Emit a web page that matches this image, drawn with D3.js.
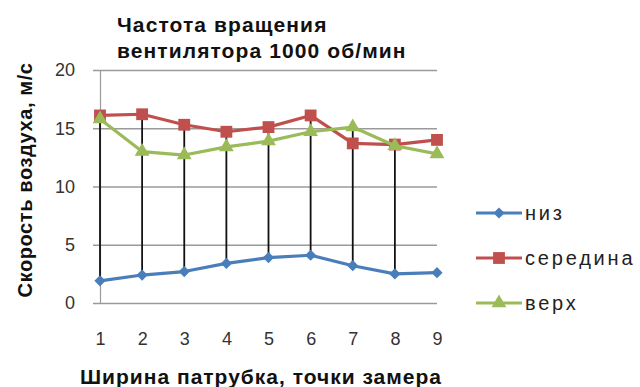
<!DOCTYPE html>
<html>
<head>
<meta charset="utf-8">
<script src="https://cdn.jsdelivr.net/npm/d3@7"></script>
<style>
  html, body { margin: 0; padding: 0; background: #fff; }
  svg { display: block; }
</style>
</head>
<body>
<svg id="chart" width="640" height="387"></svg>
<script>
// Measurement points across the duct width
const categories = [1, 2, 3, 4, 5, 6, 7, 8, 9];
// Air speed, m/s, at three heights
const nizValues      = [1.9, 2.4, 2.7, 3.4, 3.9, 4.1, 3.2, 2.5, 2.6];
const seredinaValues = [16.1, 16.2, 15.3, 14.7, 15.1, 16.1, 13.7, 13.6, 14.0];
const verkhValues    = [15.8, 13.0, 12.7, 13.4, 13.9, 14.7, 15.1, 13.5, 12.8];
const yTicks = [0, 5, 10, 15, 20];
// Points that carry a vertical high-low line
const hiLoPoints = [1, 2, 3, 4, 5, 6, 7, 8];

const seriesNames = ["низ", "середина", "верх"];
const seriesColors = ["#4a7ebb", "#c0504d", "#9bbb59"];
const seriesMarkers = ["diamond", "square", "triangle"];
const seriesValues = [nizValues, seredinaValues, verkhValues];

const svg = d3.select("#chart");
const font = "'Liberation Sans', Arial, sans-serif";

const x = d3.scalePoint().domain(categories).range([100, 437]);
const y = d3.scaleLinear().domain([0, 20]).range([303, 70]);

// Horizontal gridlines with their left ticks
const yAxis = d3.axisLeft(y).tickValues(yTicks).tickSize(7).tickFormat(d => d);
const gy = svg.append("g").attr("transform", "translate(100,0)").call(yAxis);
gy.select(".domain").attr("stroke", "#9a9a9a").attr("stroke-width", 1.2);
gy.selectAll(".tick line").clone()
  .attr("x1", 0).attr("x2", 337);
gy.selectAll(".tick line").attr("stroke", "#9a9a9a").attr("stroke-width", 1.5);
gy.selectAll(".tick text")
  .attr("x", -25)
  .attr("fill", "#333")
  .attr("font-family", font)
  .attr("font-size", 18);

// Category labels under the plot
const xAxis = d3.axisBottom(x).tickSize(0).tickPadding(0);
const gx = svg.append("g").attr("transform", "translate(0,332)").call(xAxis);
gx.select(".domain").remove();
gx.selectAll(".tick text")
  .attr("dy", "0.71em")
  .attr("fill", "#333")
  .attr("font-family", font)
  .attr("font-size", 18);

// Vertical high-low lines between the extreme series
const hiLo = hiLoPoints.map(c => {
  const i = categories.indexOf(c);
  const vals = seriesValues.map(s => s[i]);
  return { c, hi: d3.max(vals), lo: d3.min(vals) };
});
svg.append("g").selectAll("line").data(hiLo).join("line")
  .attr("x1", d => x(d.c)).attr("x2", d => x(d.c))
  .attr("y1", d => y(d.hi)).attr("y2", d => y(d.lo))
  .attr("stroke", "#111").attr("stroke-width", 1.8);

const symbolFor = {
  diamond: d3.symbol().type(d3.symbolDiamond2).size(80),
  square: d3.symbol().type(d3.symbolSquare).size(140),
  triangle: d3.symbol().type(d3.symbolTriangle).size(95)
};

const line = d3.line().x((d, i) => x(categories[i])).y(d => y(d));

seriesValues.forEach((vals, k) => {
  const g = svg.append("g");
  g.append("path").datum(vals)
    .attr("d", line)
    .attr("fill", "none")
    .attr("stroke", seriesColors[k])
    .attr("stroke-width", 3.2)
    .attr("stroke-linejoin", "round");
  g.selectAll("path.m").data(vals).join("path")
    .attr("class", "m")
    .attr("transform", (d, i) => `translate(${x(categories[i])},${y(d)})`)
    .attr("d", symbolFor[seriesMarkers[k]])
    .attr("fill", seriesColors[k]);
});

// Legend
const legendY = [213, 258, 303];
seriesNames.forEach((name, k) => {
  const g = svg.append("g").attr("transform", `translate(0,${legendY[k]})`);
  g.append("line").attr("x1", 476).attr("x2", 522).attr("y1", 0).attr("y2", 0)
    .attr("stroke", seriesColors[k]).attr("stroke-width", 3.2);
  g.append("path").attr("transform", "translate(499,0)")
    .attr("d", symbolFor[seriesMarkers[k]]).attr("fill", seriesColors[k]);
  g.append("text").attr("x", 525).attr("y", 0).attr("dy", "0.35em")
    .attr("font-family", font).attr("font-size", 20)
    .attr("letter-spacing", 2.8)
    .attr("fill", "#222")
    .text(name);
});

// Title
const title = svg.append("text")
  .attr("font-family", font).attr("font-size", 21).attr("font-weight", "bold")
  .attr("letter-spacing", 1.1)
  .attr("fill", "#111");
title.append("tspan").attr("x", 117).attr("y", 32).text("Частота вращения");
title.append("tspan").attr("x", 117).attr("y", 58).text("вентилятора 1000 об/мин");

// Axis titles
svg.append("text")
  .attr("x", 261).attr("y", 384).attr("text-anchor", "middle")
  .attr("font-family", font).attr("font-size", 21).attr("font-weight", "bold")
  .attr("letter-spacing", 1)
  .attr("fill", "#111")
  .text("Ширина патрубка, точки замера");

svg.append("text")
  .attr("transform", "translate(32,180) rotate(-90)")
  .attr("text-anchor", "middle")
  .attr("font-family", font).attr("font-size", 20).attr("font-weight", "bold")
  .attr("letter-spacing", 0.6)
  .attr("fill", "#111")
  .text("Скорость воздуха, м/с");
</script>
</body>
</html>
